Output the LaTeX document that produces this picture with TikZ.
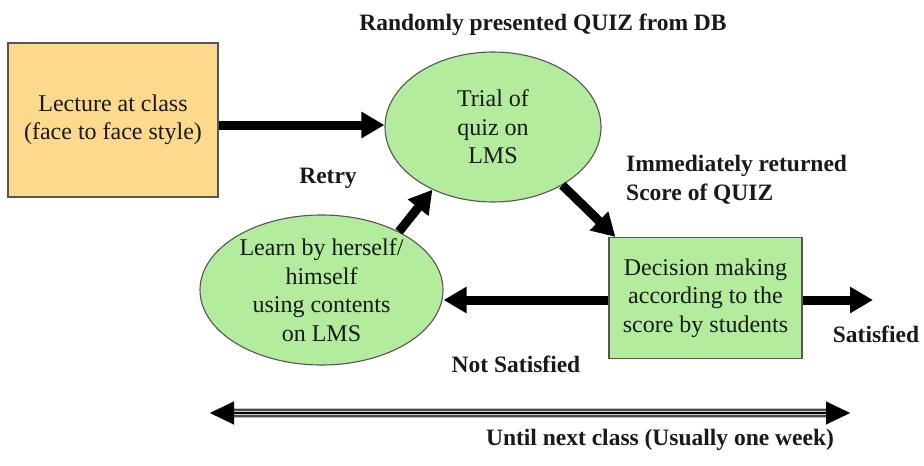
\documentclass[tikz,border=0pt]{standalone}
\usepackage{fontspec}
\setmainfont{Liberation Serif}
\usetikzlibrary{shapes.geometric,arrows.meta}

\definecolor{lectfill}{HTML}{FCD98C}
\definecolor{stepgreen}{HTML}{B3EC9D}
\definecolor{edgegray}{HTML}{555555}

\tikzset{
  bodytext/.style={font=\fontsize{24}{28.5}\selectfont, align=center, text=black!90},
  tag/.style={font=\fontsize{23.5}{29}\selectfont\bfseries, inner sep=0pt, text=black!90},
  lectbox/.style={rectangle, draw=edgegray, line width=1.1pt, fill=lectfill, bodytext},
  greenbox/.style={rectangle, draw=edgegray, line width=1.1pt, fill=stepgreen, bodytext},
  greenoval/.style={ellipse, draw=edgegray, line width=1.1pt, fill=stepgreen, bodytext, inner sep=0pt},
  fatarrow/.style={line width=9pt, -{Triangle[length=23pt,width=25pt]}},
}

\begin{document}
\begin{tikzpicture}[x=1pt, y=-1pt]
  \useasboundingbox (0,0) rectangle (924,466);

  % main blocks
  \node[lectbox, minimum width=210pt, minimum height=154pt] (lect) at (113,120)
    {Lecture at class\\(face to face style)};
  \node[greenoval, minimum width=216pt, minimum height=150pt] (trial) at (493,127)
    {Trial of\\quiz on\\LMS};
  \node[greenoval, minimum width=243pt, minimum height=150pt] (learn) at (321.5,290)
    {Learn by herself/\\himself\\using contents\\on LMS};
  \node[greenbox, minimum width=193pt, minimum height=121pt] (dec) at (705.5,298)
    {Decision making\\according to the\\score by students};

  % loose ends
  \coordinate (sat) at (873,300);
  \coordinate (wl) at (210,413);
  \coordinate (wr) at (850,413);

  % flow arrows
  \draw[fatarrow] ([yshift=-5pt]lect.east) -- ([yshift=2pt]trial.west);
  \draw[fatarrow] (trial.320) -- ([xshift=7pt]dec.north west);
  \draw[fatarrow] (learn.37) -- (trial.226);
  \draw[fatarrow] ([yshift=-2pt]dec.west) -- ([yshift=-2pt]dec.west -| learn.east);
  \draw[fatarrow] ([yshift=-2pt]dec.east) -- (sat);

  % period bar (striped double-headed arrow)
  \draw[line width=10pt, gray!55, shorten <=22pt, shorten >=22pt] (wl) -- (wr);
  \draw[line width=7.5pt, black!70, shorten <=22pt, shorten >=22pt] (wl) -- (wr);
  \draw[line width=4.5pt, gray!35, shorten <=22pt, shorten >=22pt] (wl) -- (wr);
  \draw[line width=1.6pt, black, shorten <=22pt, shorten >=22pt] (wl) -- (wr);
  \draw[line width=0.01pt, {Triangle[length=24pt,width=23pt]}-{Triangle[length=24pt,width=23pt]}] (wl) -- (wr);

  % labels
  \node[tag, anchor=base] (lblquiz) at (543,30) {Randomly presented QUIZ from DB};
  \node[tag, anchor=base] (lblretry) at (328,183) {Retry};
  \node[tag, anchor=base west, align=left] (lblscore) at (626,200) {Immediately returned\\Score of QUIZ};
  \node[tag, anchor=base] (lblnot) at (516,372) {Not Satisfied};
  \node[tag, anchor=base] (lblsat) at (876,342) {Satisfied};
  \node[tag, anchor=base] (lblweek) at (660,445) {Until next class (Usually one week)};
\end{tikzpicture}
\end{document}
